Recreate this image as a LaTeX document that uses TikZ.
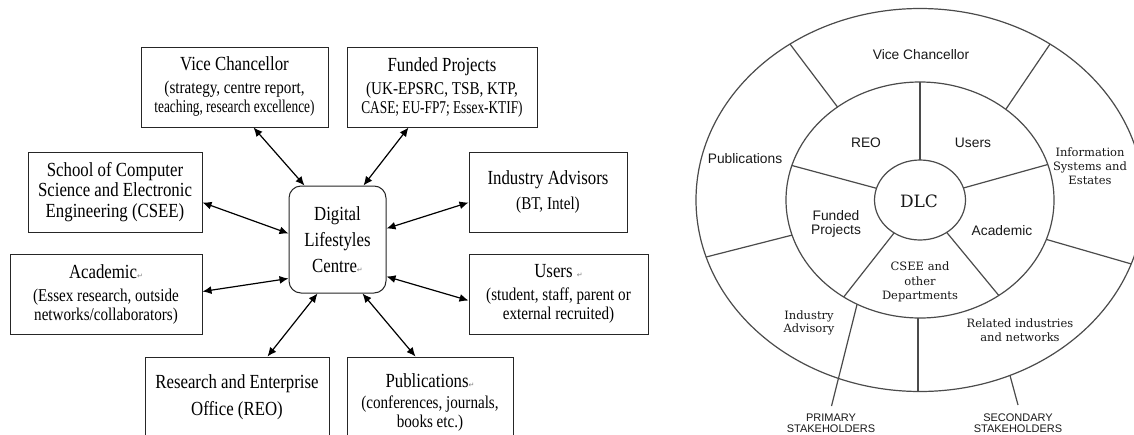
\documentclass[tikz,border=0pt]{standalone}
\usepackage{fontspec}
\setmainfont{Liberation Serif}
\newfontfamily\lsf[FakeStretch=0.84]{Liberation Serif}
\newfontfamily\lcond[FakeStretch=0.74]{Liberation Serif}
\newfontfamily\asf{Liberation Sans}
\newfontfamily\dvs{DejaVu Serif}
\newfontfamily\dvsans{DejaVu Sans}
\usetikzlibrary{arrows.meta,calc}
\definecolor{rline}{RGB}{75,75,75}
\definecolor{rtext}{RGB}{25,25,25}
\newcommand{\ttlf}{\lsf\fontsize{20}{23}\selectfont}
\newcommand{\subf}{\lsf\fontsize{18}{19}\selectfont}
\newcommand{\retmark}{{\dvsans\fontsize{7}{7}\selectfont\color{gray}\char"21B5}}
\tikzset{
  box/.style={draw=black!85, line width=1pt, align=center, inner sep=2pt, font=\subf},
  dbl/.style={{Latex[length=9pt,width=8pt]}-{Latex[length=9pt,width=8pt]}, line width=1.2pt},
  ring/.style={draw=rline, line width=1.2pt},
  rsans/.style={text=rtext, font=\asf\fontsize{13.8}{14.5}\selectfont, align=center, inner sep=0pt},
  rserif/.style={text=rtext, font=\dvs\fontsize{11.5}{13.8}\selectfont, align=center, inner sep=0pt},
  rsmall/.style={text=rtext, font=\asf\fontsize{11}{11}\selectfont, align=center, inner sep=0pt}
}
\begin{document}
\begin{tikzpicture}[x=1pt,y=-1pt]
\useasboundingbox (0,0) rectangle (1134,434);
\clip (0,0) rectangle (1134,434);
\fill[white] (0,0) rectangle (1134,434);
% ---------------- left diagram ----------------
\node[box, minimum width=187pt, minimum height=80pt] (vc) at (234.5,87)
  {{\ttlf Vice Chancellor}\\[4pt](strategy, centre report,\\{\lcond teaching, research excellence)}};
\node[box, minimum width=190pt, minimum height=80pt] (fp) at (442,87)
  {{\ttlf Funded Projects}\\[4pt](UK-EPSRC, TSB, KTP,\\{\lcond CASE; EU-FP7; Essex-KTIF)}};
\node[box, minimum width=174pt, minimum height=80pt, font=\lsf\fontsize{20}{20.5}\selectfont] (cs) at (115,192)
  {School of Computer\\Science and Electronic\\Engineering (CSEE)};
\node[box, minimum width=158pt, minimum height=80pt] (ia) at (548,192)
  {{\ttlf Industry Advisors}\\[6pt](BT, Intel)};
\node[box, rounded corners=12pt, minimum width=97pt, minimum height=107pt, font=\lsf\fontsize{20}{26}\selectfont] (dlc) at (337.5,239.5)
  {Digital\\Lifestyles\\Centre\retmark};
\node[box, minimum width=192pt, minimum height=80pt] (ac) at (106,294)
  {{\ttlf Academic\retmark}\\[4pt](Essex research, outside\\networks/collaborators)};
\node[box, minimum width=179pt, minimum height=80pt] (us) at (558.5,294)
  {{\ttlf Users \retmark}\\[4pt](student, staff, parent or\\external recruited)};
\node[box, minimum width=184pt, minimum height=81pt, font=\lsf\fontsize{20}{27}\selectfont] (reo) at (237,397.5)
  {Research and Enterprise\\Office (REO)};
\node[box, minimum width=166pt, minimum height=90pt] (pub) at (430,402)
  {{\ttlf Publications\retmark}\\[2pt](conferences, journals,\\books etc.)};
\draw[dbl] ($(vc.south west)+(113,0)$) -- ($(dlc.north west)+(16,0)$);
\draw[dbl] ($(fp.south west)+(62,0)$) -- ($(dlc.north east)+(-23,0)$);
\draw[dbl] ($(cs.north east)+(0,51)$) -- ($(dlc.north west)+(0,48)$);
\draw[dbl] ($(ia.north west)+(0,51)$) -- ($(dlc.north east)+(0,43)$);
\draw[dbl] ($(ac.north east)+(0,38)$) -- ($(dlc.north west)+(0,93)$);
\draw[dbl] ($(us.north west)+(0,47)$) -- ($(dlc.north east)+(0,91)$);
\draw[dbl] ($(reo.north west)+(123,0)$) -- ($(dlc.south west)+(29,0)$);
\draw[dbl] ($(pub.north west)+(69,0)$) -- ($(dlc.south east)+(-24,0)$);
% ---------------- right diagram ----------------
\coordinate (C) at (920,200);
\draw[ring] (C) ellipse [x radius=224, y radius=191.5];
\draw[ring] (C) ellipse [x radius=134, y radius=118];
\draw[ring] (C) ellipse [x radius=45.5, y radius=40];
% inner dividers
\draw[ring] (920,160) -- (920,82);
\draw[ring] (876.5,188.3) -- (791.9,165.5);
\draw[ring] (963.4,188) -- (1047.8,164.5);
\draw[ring] (894.1,232.9) -- (843.7,297);
\draw[ring] (946.7,232.4) -- (998.8,295.5);
% outer dividers
\draw[ring] (837.5,107) -- (790,44.1);
\draw[ring] (1006,109) -- (1050,44.1);
\draw[ring] (792.1,235.1) -- (706.1,257);
\draw[ring] (1046.3,239.4) -- (1131.1,263.9);
\draw[ring] (857.1,304.2) -- (831.5,406);
\draw[ring] (918,318) -- (918,391.5);
\draw[ring] (1010,375.5) -- (1018,405);
% labels
\node[rsans] (lvc) at (921,55) {Vice Chancellor};
\node[rsans] (lpub) at (745,159) {Publications};
\node[rsans] (lreo) at (866,143) {REO};
\node[rsans] (lus) at (973,143) {Users};
\node[rserif] (linfo) at (1090,166) {Information\\Systems and\\Estates};
\node[text=rtext, font=\dvs\fontsize{17}{17}\selectfont, inner sep=0pt] (ldlc) at (919,201) {DLC};
\node[rsans] (lfp) at (836,224) {Funded\\Projects};
\node[rsans] (lac) at (1002,231) {Academic};
\node[rserif, font=\dvs\fontsize{11.5}{14.5}\selectfont] (lcs) at (920,282) {CSEE and\\other\\Departments};
\node[rserif] (lind) at (809,323) {Industry\\Advisory};
\node[rserif] (lrel) at (1020,330) {Related industries\\and networks};
\node[rsmall, anchor=south] (lprim) at (831,433) {PRIMARY\\STAKEHOLDERS};
\node[rsmall, anchor=south] (lsec) at (1018,433) {SECONDARY\\STAKEHOLDERS};
\end{tikzpicture}
\end{document}
